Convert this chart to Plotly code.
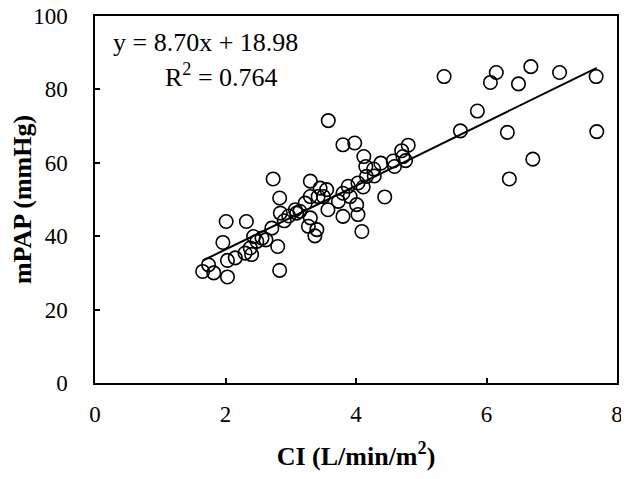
import plotly.graph_objects as go

ci = [1.65, 1.74, 1.82, 2.03, 2.03, 2.15, 2.30, 2.40, 2.38, 2.48, 2.43, 2.56, 2.62,
      1.96, 2.01, 2.32, 2.71, 2.80, 2.83, 2.73, 2.83, 2.84, 2.90, 2.97, 3.07, 3.14,
      3.22, 3.30, 3.30, 3.42, 3.45, 3.55, 3.30, 3.27, 3.40, 3.37, 3.57, 3.575, 3.73,
      3.80, 3.91, 3.88, 4.03, 4.11, 3.80, 4.01, 4.03, 4.09, 3.80, 3.98, 4.12, 4.15,
      4.38, 4.27, 4.57, 4.59, 4.70, 4.80, 4.72, 4.76, 4.44, 4.16, 4.28, 3.50, 3.09,
      5.35, 6.15, 6.06, 6.68, 6.49, 7.12, 7.68, 5.86, 5.60, 6.32, 7.69, 6.71, 6.35]
mpap = [30.4, 32.2, 30.0, 28.9, 33.4, 34.1, 35.4, 35.0, 36.8, 38.6, 39.9, 39.5, 39.0,
        38.3, 44.0, 44.0, 42.2, 37.2, 30.7, 55.6, 50.4, 46.3, 44.2, 45.5, 47.2, 46.8,
        49.0, 55.0, 50.8, 50.8, 53.1, 52.7, 45.0, 42.7, 41.8, 40.1, 47.2, 71.5, 49.5,
        51.7, 50.8, 53.6, 54.5, 53.4, 45.4, 48.6, 45.9, 41.3, 64.9, 65.4, 61.7, 59.0,
        59.9, 58.3, 60.5, 59.0, 63.3, 64.8, 61.7, 60.6, 50.7, 56.3, 56.4, 50.8, 46.3,
        83.5, 84.6, 81.9, 86.2, 81.5, 84.6, 83.5, 74.1, 68.7, 68.3, 68.5, 61.0, 55.6]

slope = 8.70
intercept = 18.98
r2 = 0.764

x_ticks = [0, 2, 4, 6, 8]
y_ticks = [0, 20, 40, 60, 80, 100]

xmin, xmax = min(ci), max(ci)
fit_x = [xmin, xmax]
fit_y = [slope * v + intercept for v in fit_x]

fig = go.Figure()
fig.add_trace(go.Scatter(
    x=ci, y=mpap, mode="markers",
    marker=dict(symbol="circle-open", size=13.5, color="black", line=dict(width=1.6, color="black")),
    showlegend=False, hoverinfo="skip", cliponaxis=False))
fig.add_trace(go.Scatter(
    x=fit_x, y=fit_y, mode="lines",
    line=dict(color="black", width=2), showlegend=False, hoverinfo="skip"))

font_family = "Liberation Serif"

fig.add_annotation(xref="paper", yref="paper", x=0.211, y=0.927,
                   text=f"y = {slope:.2f}x + {intercept:.2f}", showarrow=False,
                   font=dict(family=font_family, size=26, color="black"),
                   xanchor="center", yanchor="middle")
fig.add_annotation(xref="paper", yref="paper", x=0.243, y=0.839,
                   text=f"R<sup>2</sup> = {r2:.3f}", showarrow=False,
                   font=dict(family=font_family, size=26, color="black"),
                   xanchor="center", yanchor="middle")

axis_common = dict(
    showline=True, linecolor="black", linewidth=1.5, mirror=True,
    ticks="inside", ticklen=5, tickwidth=1.5, tickcolor="black",
    showgrid=False, zeroline=False, automargin=False,
    ticklabeloverflow="allow",
    tickfont=dict(family=font_family, size=23, color="black"),
)

fig.update_xaxes(range=[0, 8], tickvals=x_ticks, ticktext=[str(v) for v in x_ticks],
                 title=dict(text="<b>CI (L/min/m<sup>2</sup>)</b>",
                            font=dict(family=font_family, size=26, color="black"), standoff=20),
                 ticklabelstandoff=10, **axis_common)
fig.update_yaxes(range=[0, 100], tickvals=y_ticks, ticktext=[str(v) for v in y_ticks],
                 title=dict(text="<b>mPAP (mmHg)</b>",
                            font=dict(family=font_family, size=26, color="black"), standoff=9),
                 ticklabelstandoff=21, **axis_common)

fig.update_layout(
    width=621, height=471,
    margin=dict(l=86.5, r=11.5, t=8, b=95.5),
    plot_bgcolor="white", paper_bgcolor="white",
)

fig.write_html("out.html")
